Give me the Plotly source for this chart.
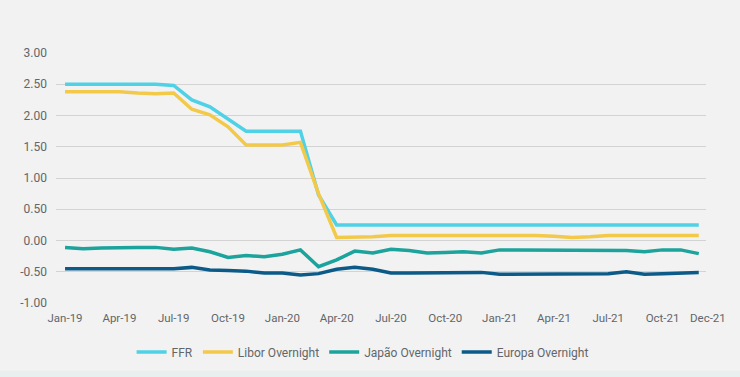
import plotly.graph_objects as go

months = ["Jan", "Feb", "Mar", "Apr", "May", "Jun", "Jul", "Aug", "Sep", "Oct", "Nov", "Dec"]
categories = [f"{m}-{y}" for y in ("19", "20", "21") for m in months]

ffr = [2.50, 2.50, 2.50, 2.50, 2.50, 2.50, 2.48, 2.25, 2.14, 1.94, 1.75, 1.75,
       1.75, 1.75, 0.73, 0.25, 0.25, 0.25, 0.25, 0.25, 0.25, 0.25, 0.25, 0.25,
       0.25, 0.25, 0.25, 0.25, 0.25, 0.25, 0.25, 0.25, 0.25, 0.25, 0.25, 0.25]
libor = [2.38, 2.38, 2.38, 2.38, 2.36, 2.35, 2.36, 2.10, 2.01, 1.82, 1.53, 1.53,
         1.53, 1.57, 0.75, 0.05, 0.05, 0.06, 0.08, 0.08, 0.08, 0.08, 0.08, 0.08,
         0.09, 0.08, 0.08, 0.07, 0.05, 0.06, 0.08, 0.08, 0.08, 0.08, 0.08, 0.08]
japao = [-0.11, -0.13, -0.12, -0.11, -0.11, -0.11, -0.14, -0.12, -0.18, -0.27, -0.24, -0.26,
         -0.22, -0.15, -0.42, -0.31, -0.17, -0.20, -0.14, -0.16, -0.20, -0.19, -0.18, -0.20,
         -0.15, -0.15, -0.15, -0.15, -0.15, -0.15, -0.15, -0.16, -0.18, -0.15, -0.15, -0.21]
europa = [-0.45, -0.45, -0.45, -0.45, -0.45, -0.45, -0.45, -0.43, -0.47, -0.48, -0.49, -0.52,
          -0.52, -0.55, -0.53, -0.46, -0.43, -0.46, -0.52, -0.52, -0.52, -0.52, -0.52, -0.51,
          -0.54, -0.54, -0.54, -0.54, -0.54, -0.54, -0.53, -0.50, -0.54, -0.53, -0.52, -0.51]

series = [
    ("FFR", ffr, "#4fd1e6"),
    ("Libor Overnight", libor, "#f3c94a"),
    ("Japão Overnight", japao, "#1ba39c"),
    ("Europa Overnight", europa, "#0c5a88"),
]

tick_labels = ["Jan-19", "Apr-19", "Jul-19", "Oct-19", "Jan-20", "Apr-20", "Jul-20",
               "Oct-20", "Jan-21", "Apr-21", "Jul-21", "Oct-21"]
last_label = "Dec-21"
y_ticks = [3.0, 2.5, 2.0, 1.5, 1.0, 0.5, 0.0, -0.5, -1.0]

font_family = "Roboto, Liberation Sans Narrow, Arial Narrow, sans-serif"
text_color = "#636669"

fig = go.Figure()
for name, vals, color in series:
    fig.add_trace(go.Scatter(x=categories, y=vals, name=name, mode="lines",
                             line=dict(color=color, width=3.5)))

fig.update_layout(
    width=740, height=377,
    paper_bgcolor="#f2f2f2", plot_bgcolor="#f2f2f2",
    margin=dict(l=56, r=34, t=53, b=74),
    font=dict(family=font_family, size=12, color=text_color),
    showlegend=True,
    legend=dict(orientation="h", x=0.49, xanchor="center", xref="container",
                y=0.066, yanchor="middle", yref="container",
                font=dict(size=12, color=text_color), bgcolor="rgba(0,0,0,0)",
                itemwidth=30, tracegroupgap=0),
    xaxis=dict(type="category", categoryorder="array", categoryarray=categories,
               range=[-0.5, 35.4], tickmode="array", tickvals=tick_labels,
               ticktext=tick_labels, showgrid=False, zeroline=False, showline=False,
               ticks="", tickangle=0, automargin=False, ticklabelstandoff=6,
               tickfont=dict(size=11.5)),
    yaxis=dict(range=[-1.0, 3.0], tickmode="array", tickvals=y_ticks,
               ticktext=[f"{v:.2f}" for v in y_ticks], showgrid=True,
               gridcolor="#d3d3d3", gridwidth=1, zeroline=False, showline=False,
               ticks="", ticklabelstandoff=8, automargin=False),
    annotations=[dict(text=last_label, x=last_label, xref="x", y=0, yref="paper",
                      yanchor="top", xanchor="center", xshift=9, yshift=-6,
                      showarrow=False, font=dict(size=11.5, color=text_color))],
    shapes=[dict(type="rect", xref="paper", yref="paper", x0=-0.1, x1=1.1,
                 y0=-0.3, y1=-0.27, line=dict(width=0), fillcolor="#e8efee")],
)

fig.write_html(
    "out.html",
    config={"displayModeBar": False},
    post_script="document.body.style.margin='0';document.body.style.background='#f2f2f2';",
)
